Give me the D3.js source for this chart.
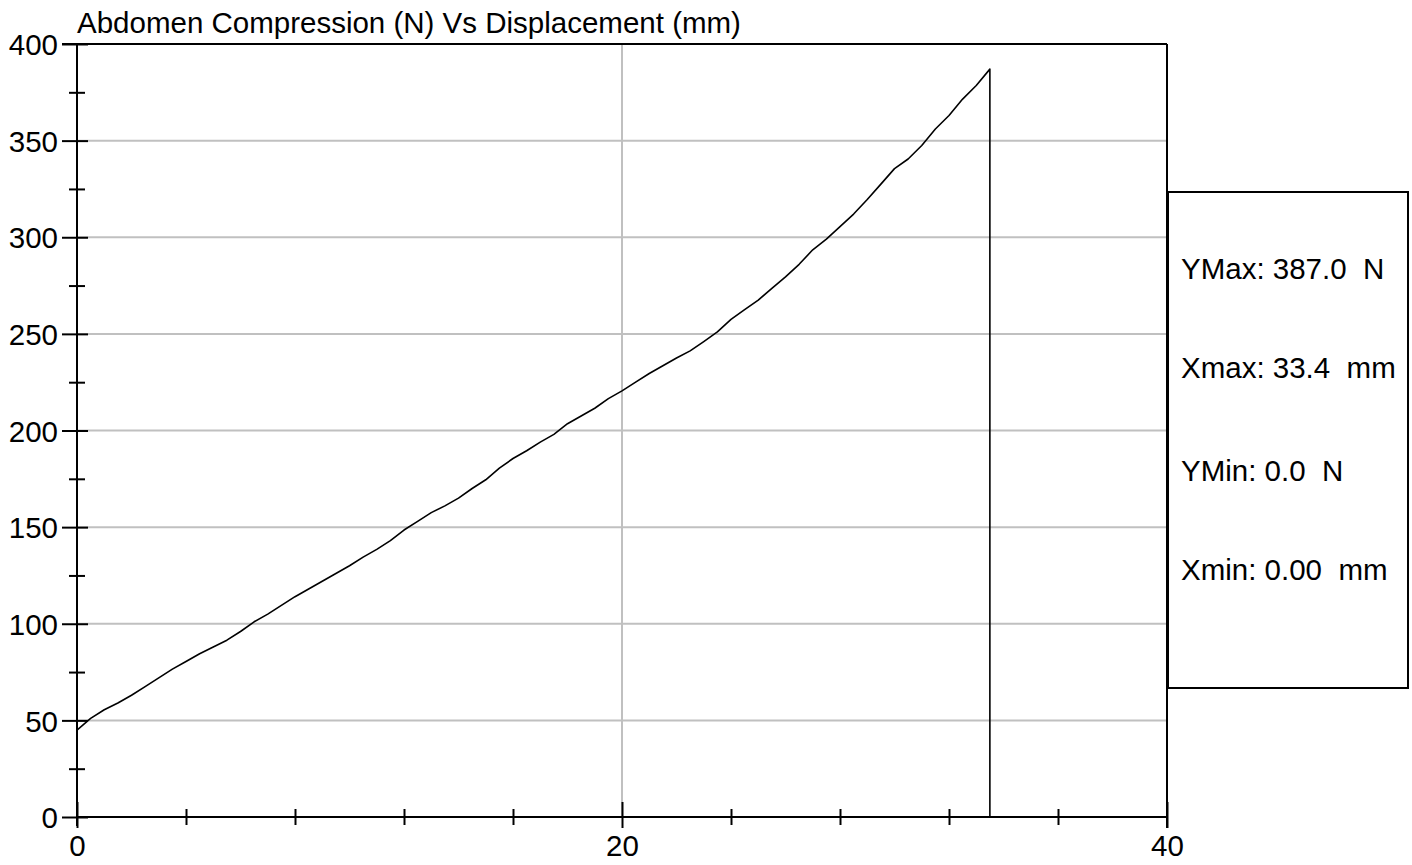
<!DOCTYPE html>
<html>
<head>
<meta charset="utf-8">
<script src="https://cdn.jsdelivr.net/npm/d3@7"></script>
<style>
  html, body { margin: 0; padding: 0; background: #ffffff; }
  svg { display: block; font-family: "Liberation Sans", Arial, sans-serif; }
  text { white-space: pre; }
</style>
</head>
<body>
<svg id="chart" width="1412" height="865"></svg>
<script>
// ---- data ----
const title = "Abdomen Compression (N) Vs Displacement (mm)";
const displacement = [0, 0.5, 1, 1.5, 2, 2.5, 3, 3.5, 4, 4.5, 5, 5.5, 6, 6.5, 7, 7.5, 8, 8.5, 9, 9.5,
  10, 10.5, 11, 11.5, 12, 12.5, 13, 13.5, 14, 14.5, 15, 15.5, 16, 16.5, 17, 17.5, 18, 18.5, 19, 19.5,
  20, 20.5, 21, 21.5, 22, 22.5, 23, 23.5, 24, 24.5, 25, 25.5, 26, 26.5, 27, 27.5, 28, 28.5, 29, 29.5,
  30, 30.5, 31, 31.5, 32, 32.5, 33, 33.5, 33.5];
const force = [45, 51, 55.5, 59, 63, 67.5, 72, 76.5, 80.5, 84.5, 88, 91.5, 96, 101, 105, 109.5, 114, 118, 122, 126,
  130, 134.5, 138.5, 143, 148.5, 153, 157.5, 161, 165, 170, 174.5, 180.5, 185.5, 189.5, 194, 198, 203.5, 207.5, 211.5, 216.5,
  220.5, 225, 229.5, 233.5, 237.5, 241.2, 246, 251, 257.5, 262.5, 267.5, 273.5, 279.5, 286, 293.5, 299, 305.5, 312, 319.5, 327.5,
  335.5, 340.5, 347.5, 356, 363, 371.5, 378.5, 387, 0];
const yMajorTicks = [0, 50, 100, 150, 200, 250, 300, 350, 400];
const yMinorTicks = [25, 75, 125, 175, 225, 275, 325, 375];
const xMajorTicks = [0, 20, 40];
const xMinorTicks = [4, 8, 12, 16, 24, 28, 32, 36];
const xGrid = [20];
const yGrid = [50, 100, 150, 200, 250, 300, 350];
const statLabels = ["YMax: 387.0  N", "Xmax: 33.4  mm", "YMin: 0.0  N", "Xmin: 0.00  mm"];

// ---- layout ----
const svg = d3.select("#chart");
const pL = 77, pR = 1167, pT = 44, pB = 817;
const x = d3.scaleLinear().domain([0, 40]).range([pL, pR]);
const y = d3.scaleLinear().domain([0, 400]).range([pB, pT]);
const FS = 29.5;
const FONT = "'Liberation Sans', Arial, sans-serif";

// grid
svg.append("g").selectAll("line").data(yGrid).join("line")
  .attr("x1", pL).attr("x2", pR)
  .attr("y1", d => y(d)).attr("y2", d => y(d))
  .attr("stroke", "#c0c0c0").attr("stroke-width", 2);
svg.append("g").selectAll("line").data(xGrid).join("line")
  .attr("x1", d => x(d)).attr("x2", d => x(d))
  .attr("y1", pT).attr("y2", pB)
  .attr("stroke", "#c0c0c0").attr("stroke-width", 2);

// y axis (major)
const yAx = svg.append("g").attr("transform", `translate(${pL},0)`)
  .call(d3.axisLeft(y).tickValues(yMajorTicks).tickSize(15).tickPadding(4).tickFormat(d3.format("d")));
yAx.select(".domain").remove();
yAx.selectAll(".tick line").attr("x1", 11).attr("x2", -15).attr("stroke", "#000").attr("stroke-width", 2);
yAx.selectAll(".tick text").attr("font-size", FS).attr("fill", "#000")
  .attr("font-family", FONT).attr("dy", "0.36em");
// y axis (minor)
const yMin = svg.append("g").attr("transform", `translate(${pL},0)`)
  .call(d3.axisLeft(y).tickValues(yMinorTicks).tickSize(8).tickFormat(""));
yMin.select(".domain").remove();
yMin.selectAll(".tick line").attr("x1", 8).attr("x2", -8).attr("stroke", "#000").attr("stroke-width", 2);

// x axis (major)
const xAx = svg.append("g").attr("transform", `translate(0,${pB})`)
  .call(d3.axisBottom(x).tickValues(xMajorTicks).tickSize(11).tickPadding(7).tickFormat(d3.format("d")));
xAx.select(".domain").remove();
xAx.selectAll(".tick line").attr("y1", -15).attr("y2", 11).attr("stroke", "#000").attr("stroke-width", 2);
xAx.selectAll(".tick text").attr("font-size", FS).attr("fill", "#000")
  .attr("font-family", FONT);
// x axis (minor)
const xMin = svg.append("g").attr("transform", `translate(0,${pB})`)
  .call(d3.axisBottom(x).tickValues(xMinorTicks).tickSize(8).tickFormat(""));
xMin.select(".domain").remove();
xMin.selectAll(".tick line").attr("y1", -8).attr("y2", 8).attr("stroke", "#000").attr("stroke-width", 2);

// frame / axis lines
const frame = svg.append("g").attr("stroke", "#000").attr("stroke-width", 2).attr("fill", "none");
frame.append("line").attr("x1", pL).attr("x2", pL).attr("y1", pT).attr("y2", pB + 9);
frame.append("line").attr("x1", pL).attr("x2", pR).attr("y1", pB).attr("y2", pB);
frame.append("line").attr("x1", pL - 15).attr("x2", pR).attr("y1", pT).attr("y2", pT);
frame.append("line").attr("x1", pR).attr("x2", pR).attr("y1", pT).attr("y2", pB + 11);

// data line
const pts = displacement.map((d, i) => [d, force[i]]);
svg.append("path").datum(pts)
  .attr("fill", "none").attr("stroke", "#000").attr("stroke-width", 1.6)
  .attr("stroke-linejoin", "round")
  .attr("d", d3.line().x(d => x(d[0])).y(d => y(d[1])));

// title
svg.append("text").attr("x", pL).attr("y", 33)
  .attr("font-size", FS).attr("fill", "#000").text(title);

// stats box
svg.append("rect").attr("x", 1168).attr("y", 192).attr("width", 240).attr("height", 496)
  .attr("fill", "#fff").attr("stroke", "#000").attr("stroke-width", 2);
const statY = [268, 367, 470, 569];
svg.append("g").selectAll("text").data(statLabels).join("text")
  .attr("x", 1181).attr("y", (d, i) => statY[i]).attr("dy", "0.36em")
  .attr("font-size", FS).attr("fill", "#000").text(d => d);
</script>
</body>
</html>
